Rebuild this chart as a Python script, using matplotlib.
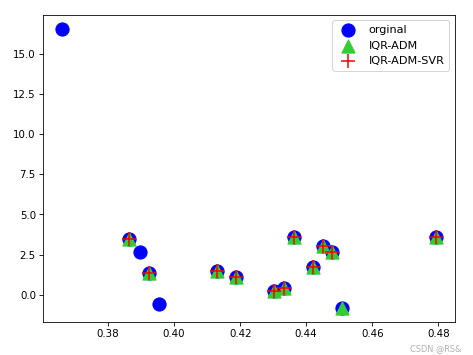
import matplotlib.pyplot as plt

# data
x_orig = [0.366, 0.3864, 0.3897, 0.3924, 0.3955, 0.413, 0.4188, 0.4303, 0.4333,
          0.4362, 0.442, 0.445, 0.4478, 0.4508, 0.4793]
y_orig = [16.56, 3.45, 2.63, 1.36, -0.56, 1.5, 1.08, 0.2, 0.4,
          3.58, 1.75, 3.06, 2.65, -0.83, 3.62]

x_adm = [0.3864, 0.3924, 0.413, 0.4188, 0.4303, 0.4333, 0.4362, 0.442, 0.445,
         0.4478, 0.4508, 0.4793]
y_adm = [3.45, 1.36, 1.5, 1.08, 0.2, 0.4, 3.58, 1.75, 3.06, 2.65, -0.83, 3.62]

x_svr = [0.3864, 0.3924, 0.413, 0.4188, 0.4303, 0.4333, 0.4362, 0.442, 0.445,
         0.4478, 0.4793]
y_svr = [3.45, 1.36, 1.5, 1.08, 0.2, 0.4, 3.58, 1.75, 3.06, 2.65, 3.62]

fig = plt.figure(figsize=(6.4, 4.8), dpi=74)
ax = fig.add_axes([0.091, 0.093, 0.869, 0.865])

ax.scatter(x_orig, y_orig, s=165, c='b', marker='o', label='orginal')
ax.scatter(x_adm, y_adm, s=165, c='limegreen', marker='^', label='IQR-ADM')
ax.scatter(x_svr, y_svr, s=165, c='r', marker='+', label='IQR-ADM-SVR')

ax.legend(loc='upper right', fontsize=11)

# watermark
fig.text(0.975, 0.006, 'CSDN @RS&', ha='right', va='bottom', fontsize=8, color='#b0b0b0')

fig.savefig('out.png', dpi=74)
